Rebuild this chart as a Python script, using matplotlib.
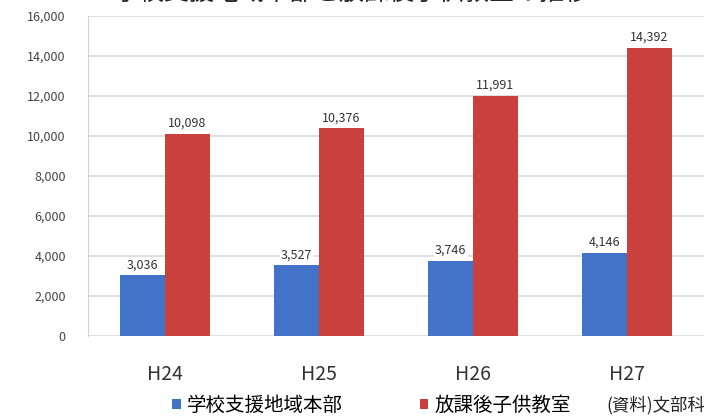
import matplotlib.pyplot as plt
import numpy as np

plt.rcParams['font.family'] = ['Noto Sans CJK JP', 'DejaVu Sans']

years = ["H24", "H25", "H26", "H27"]
honbu = [3036, 3527, 3746, 4146]        # 学校支援地域本部
kyoshitsu = [10098, 10376, 11991, 14392]  # 放課後子供教室
series_names = ["学校支援地域本部", "放課後子供教室"]
yticks = np.arange(0, 16001, 2000)

fig = plt.figure(figsize=(7.04, 4.18), dpi=100)
ax = fig.add_axes([0.125, 0.196, 0.875, 0.766])

x = np.arange(len(years))
w = 0.29
b1 = ax.bar(x - w / 2, honbu, w, color="#4273c9", label=series_names[0])
b2 = ax.bar(x + w / 2, kyoshitsu, w, color="#c9403d", label=series_names[1])

for bars in (b1, b2):
    for r in bars:
        v = r.get_height()
        ax.text(r.get_x() + r.get_width() / 2, v + 200, f"{v:,.0f}",
                ha="center", va="bottom", fontsize=9, color="#333333",
                bbox=dict(facecolor="white", edgecolor="none", pad=1))

ax.set_xlim(-0.5, 3.5)
ax.set_ylim(0, 16000)
ax.set_yticks(yticks)
ax.set_yticklabels([f"{v:,}" for v in yticks], fontsize=9, color="#444444")
ax.set_xticks(x)
ax.set_xticklabels(years, fontsize=14, color="#333333")
ax.tick_params(axis="y", length=0, pad=16)
ax.tick_params(axis="x", length=0, pad=20)
ax.yaxis.grid(True, color="#d9d9d9", linewidth=1.2)
ax.set_axisbelow(True)
for s in ["top", "right", "bottom"]:
    ax.spines[s].set_visible(False)
ax.spines["left"].set_color("#d0d0d0")

# title is almost entirely cut off at the top in the reference
fig.text(0.5, 1.0 - 6 / 418, "学校支援地域本部と放課後子供教室の推移", ha="center",
         va="bottom", fontsize=18, color="#222222")

fig.legend(loc="center left", bbox_to_anchor=(0.245, 0.03), ncol=2, frameon=False,
           fontsize=14, handlelength=0.42, handleheight=0.42, columnspacing=4.0,
           handletextpad=0.3, borderaxespad=0, borderpad=0)
fig.text(0.862, 0.03, "(資料)文部科学省", fontsize=12.5, color="#222222", va="center")

fig.savefig("out.png", dpi=100)
